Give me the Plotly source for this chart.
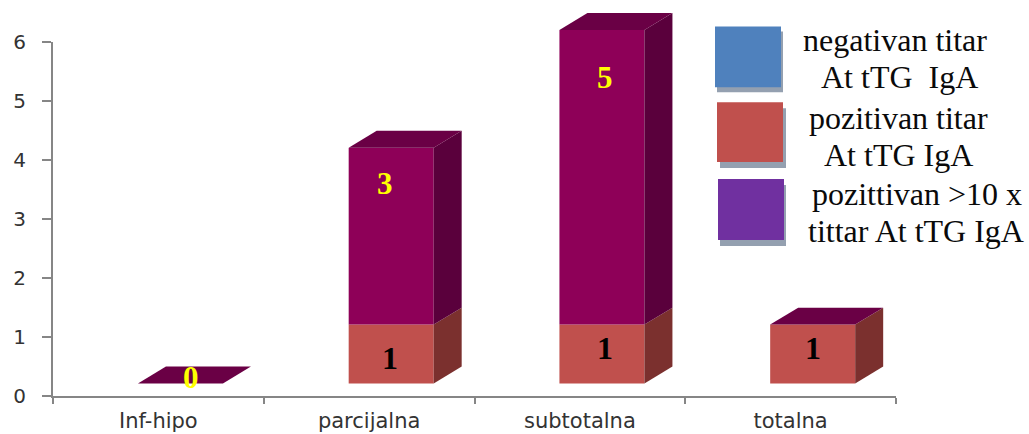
import plotly.graph_objects as go

categories = ["Inf-hipo", "parcijalna", "subtotalna", "totalna"]
negativan = [0, 0, 0, 0]
pozitivan = [0, 1, 1, 1]
pozitivan_10x = [0, 3, 5, 0]
legend_lines = [
    ["negativan titar", "At tTG  IgA"],
    ["pozitivan titar", "At tTG IgA"],
    ["pozittivan >10 x", "tittar At tTG IgA"],
]

W, H = 1029, 434
L, R, T6, B = 53, 896, 42, 396.5
TOP = 12.5
PX_X = (R - L) / 4
PX_Y = (B - T6) / 6
FLOOR = 12.5 / PX_Y
DX, DY = 28 / PX_X, 17 / PX_Y
OFFSET, WIDTH = -0.097, 85 / PX_X

RED, RED_SIDE = "#C0504D", "#7B302E"
PUR, PUR_SIDE, PUR_TOP = "#8E0058", "#5A003C", "#6A0045"
AXIS = "#868686"


def px(x):
    return (x - L) / (R - L)


def py(y):
    return (B - y) / (B - TOP)


fig = go.Figure()
xs = list(range(len(categories)))


def poly(xv, yv, color):
    fig.add_trace(go.Scatter(x=xv, y=yv, yaxis="y2", mode="lines", fill="toself", fillcolor=color,
                             line=dict(width=0, color=color), hoverinfo="skip",
                             showlegend=False))


base_red = [FLOOR] * 4
base_pur = [FLOOR + a + b for a, b in zip(negativan, pozitivan)]
for i in xs:
    left, right = i + OFFSET, i + OFFSET + WIDTH
    y0 = base_red[i]
    y1 = y0 + pozitivan[i]
    y2 = y1 + pozitivan_10x[i]
    if pozitivan[i]:
        poly([right, right + DX, right + DX, right, right], [y0, y0 + DY, y1 + DY, y1, y0], RED_SIDE)
    if pozitivan_10x[i]:
        poly([right, right + DX, right + DX, right, right], [y1, y1 + DY, y2 + DY, y2, y1], PUR_SIDE)
    poly([left, left + DX, right + DX, right, left], [y2, y2 + DY, y2 + DY, y2, y2], PUR_TOP)

common = dict(x=xs, offset=OFFSET, width=WIDTH, showlegend=False)
fig.add_trace(go.Bar(y=negativan, base=base_red, marker=dict(color="#4F81BD", line_width=0),
                     name=" ".join(legend_lines[0]), **common))
fig.add_trace(go.Bar(y=pozitivan, base=base_red, yaxis="y2", marker=dict(color=RED, line_width=0),
                     name=" ".join(legend_lines[1]), **common))
fig.add_trace(go.Bar(y=pozitivan_10x, base=base_pur, yaxis="y2", marker=dict(color=PUR, line_width=0),
                     name=" ".join(legend_lines[2]), **common))

ann = []


def label(text, x, y, color, size=26, family="Liberation Serif", bold=True):
    ann.append(dict(text=f"<b>{text}</b>" if bold else text, x=px(x), y=py(y), xref="paper", yref="paper",
                    showarrow=False, xanchor="center", yanchor="middle",
                    font=dict(family=family, size=size, color=color)))


label(str(pozitivan_10x[0]), 191, 378, "#FFFF00", 31)
label(str(pozitivan_10x[1]), 385, 183, "#FFFF00", 31)
label(str(pozitivan_10x[2]), 605, 77, "#FFFF00", 31)
label(str(pozitivan[1]), 390, 358, "#000000", 32)
label(str(pozitivan[2]), 605, 348, "#000000", 32)
label(str(pozitivan[3]), 813, 348, "#000000", 32)

line_pos = [[(895, 40), (899, 77)], [(898, 118), (898, 155)], [(917, 194), (916, 231)]]
for lines, pos in zip(legend_lines, line_pos):
    for t, (x, y) in zip(lines, pos):
        label(t.replace("  ", "&nbsp; "), x, y, "#0A0A0A", 32, bold=False)

shapes = []
for (x0, y0, x1, y1, c, sx, sy) in [
    (715, 26, 781, 87, "#4F81BD", 2, 5),
    (717, 102, 783, 162, "#C0504D", 3, 6),
    (718, 179, 784, 240, "#7030A0", 2, 6),
]:
    shapes.append(dict(type="rect", xref="paper", yref="paper", x0=px(x0 + sx), x1=px(x1 + sx),
                       y0=py(y0 + sy), y1=py(y1 + sy), fillcolor="#94A0B0", line_width=0, layer="above"))
    shapes.append(dict(type="rect", xref="paper", yref="paper", x0=px(x0), x1=px(x1),
                       y0=py(y0), y1=py(y1), fillcolor=c, line_width=0, layer="above"))

fig.update_layout(
    width=W, height=H, margin=dict(l=L, r=W - R, t=TOP, b=H - B, pad=0, autoexpand=False), barmode="overlay",
    paper_bgcolor="white", plot_bgcolor="white", annotations=ann, shapes=shapes, showlegend=False,
    xaxis=dict(range=[-0.5, 3.5], tickmode="array", tickvals=xs, ticktext=categories, ticks="",
               automargin=False,
               showgrid=False, zeroline=False, showline=True, linecolor=AXIS, linewidth=2,
               ticklabelstandoff=5,
               tickfont=dict(family="DejaVu Sans", size=21, color="#333333"),
               minor=dict(tickmode="array", tickvals=[-0.5, 0.5, 1.5, 2.5, 3.5], ticks="outside",
                          ticklen=6, tickwidth=2, tickcolor=AXIS, showgrid=False)),
    yaxis=dict(range=[0, 6], domain=[0, (B - T6) / (B - TOP)], tickvals=[0, 1, 2, 3, 4, 5, 6],
               automargin=False,
               ticks="outside", ticklen=9, tickwidth=2, ticklabelstandoff=12,
               tickcolor=AXIS, showgrid=False, zeroline=False, showline=True, linecolor=AXIS,
               linewidth=2, tickfont=dict(family="DejaVu Sans", size=20, color="#333333")),
    yaxis2=dict(range=[0, (B - TOP) / PX_Y], domain=[0, 1], anchor="x", visible=False,
                automargin=False, showgrid=False, zeroline=False),
)

fig.write_html("out.html", config={"displayModeBar": False},
               post_script="document.body.style.margin='0';")
